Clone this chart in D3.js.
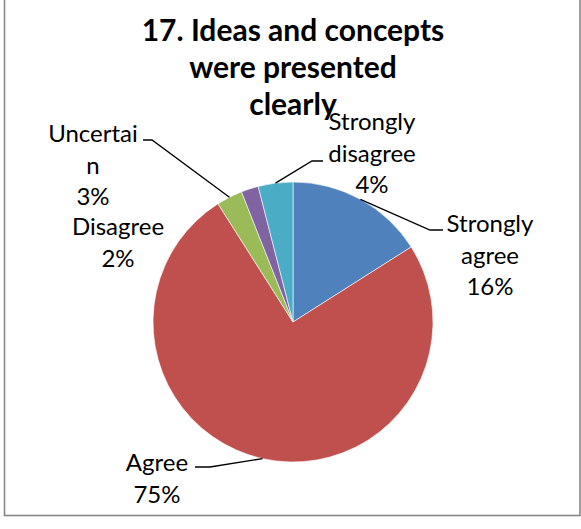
<!DOCTYPE html>
<html>
<head>
<meta charset="utf-8">
<script src="https://cdn.jsdelivr.net/npm/d3@7"></script>
<style>
  body { margin: 0; background: #fff; }
  svg { display: block; }
  text { font-family: Lato, "Open Sans", sans-serif; fill: #000; }
</style>
</head>
<body>
<svg id="chart"></svg>
<script>
'use strict'

const titleLines = ['17. Ideas and concepts', 'were presented', 'clearly']

const categories = ['Strongly agree', 'Agree', 'Uncertain', 'Disagree', 'Strongly disagree']
const values = [16, 75, 3, 2, 4]
const colors = ['#4f81bd', '#c0504d', '#9bbb59', '#8064a2', '#4bacc6']

const WIDTH = 581
const HEIGHT = 529

const cx = 293
const cy = 322
const radius = 140

// where each label sits: text centre x, first baseline y, and the elbow of the leader line
// (null elbow = no leader drawn)
const labelLayout = [
    { x: 490, y: 232, elbow: [430, 230], end: [443, 230] },
    { x: 157, y: 471, elbow: [210, 467], end: [195, 467] },
    { x: 93, y: 142, elbow: [152, 140], end: [143, 140] },
    { x: 118, y: 235, elbow: null },
    { x: 372, y: 130, elbow: [312, 161], end: [323, 161] }
]

const LINE_H = 31.5

// one word per line, long words broken like Excel does
function wrapLabel(name) {
    let lines = []
    for (let w of name.split(' ')) {
        while (w.length > 8) {
            lines.push(w.slice(0, 8))
            w = w.slice(8)
        }
        lines.push(w)
    }
    return lines
}

let svg = d3.select('#chart')
    .attr('width', WIDTH)
    .attr('height', HEIGHT)

// outer frame, top edge is cut off in the original
svg.append('rect')
    .attr('x', 4.5)
    .attr('y', -10)
    .attr('width', 575.5)
    .attr('height', 525.5)
    .attr('fill', 'none')
    .attr('stroke', '#878787')
    .attr('stroke-width', 1.6)

let title = svg.append('text')
    .attr('text-anchor', 'middle')
    .style('font-weight', 'bold')
    .style('font-size', '30px')

title.selectAll('tspan')
    .data(titleLines)
    .join('tspan')
    .attr('x', cx)
    .attr('y', (d, i) => 41 + i * 37)
    .text(d => d)

let total = d3.sum(values)

let pie = d3.pie()
    .sort(null)
    .value(d => d)

let arcs = pie(values)

let arc = d3.arc()
    .innerRadius(0)
    .outerRadius(radius)

let g = svg.append('g')
    .attr('transform', 'translate(' + cx + ',' + cy + ')')

g.selectAll('path')
    .data(arcs)
    .join('path')
    .attr('d', arc)
    .attr('fill', (d, i) => colors[i])
    .attr('stroke', '#fff')
    .attr('stroke-width', 0.6)

// leader lines from the middle of each slice's rim
arcs.forEach((a, i) => {
    let lay = labelLayout[i]
    if (!lay.elbow) return
    let mid = (a.startAngle + a.endAngle) / 2
    let sx = cx + radius * Math.sin(mid)
    let sy = cy - radius * Math.cos(mid)
    svg.append('polyline')
        .attr('points', [[sx, sy], lay.elbow, lay.end].map(p => p.join(',')).join(' '))
        .attr('fill', 'none')
        .attr('stroke', '#000')
        .attr('stroke-width', 1.3)
})

categories.forEach((name, i) => {
    let lay = labelLayout[i]
    let lines = wrapLabel(name)
    lines.push(Math.round(values[i] / total * 100) + '%')

    let t = svg.append('text')
        .attr('text-anchor', 'middle')
        .style('font-size', '24px')

    t.selectAll('tspan')
        .data(lines)
        .join('tspan')
        .attr('x', lay.x)
        .attr('y', (d, k) => lay.y + k * LINE_H)
        .text(d => d)
})
</script>
</body>
</html>
